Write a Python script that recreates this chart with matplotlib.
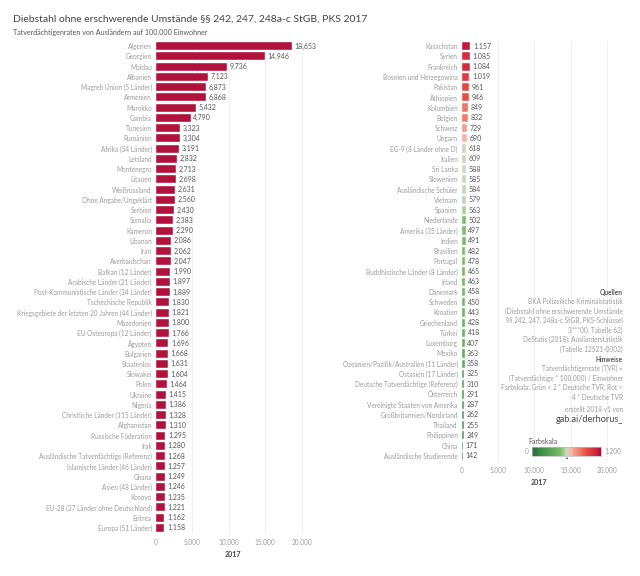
import numpy as np
import matplotlib
matplotlib.use("Agg")
import matplotlib.pyplot as plt
from matplotlib.colors import LinearSegmentedColormap

plt.rcParams['font.family'] = ['Lato', 'DejaVu Sans']

# left panel: rates above 1.200
left_names = [
    'Algerien', 'Georgien', 'Moldau', 'Albanien', 'Magreb Union (5 Länder)', 'Armenien',
    'Marokko', 'Gambia', 'Tunesien', 'Rumänien', 'Afrika (54 Länder)', 'Lettland',
    'Montenegro', 'Litauen', 'Weißrussland', 'Ohne Angabe/Ungeklärt', 'Serbien', 'Somalia',
    'Kamerun', 'Libanon', 'Iran', 'Aserbaidschan', 'Balkan (12 Länder)',
    'Arabische Länder (21 Länder)', 'Post-Kommunistische Länder (34 Länder)',
    'Tschechische Republik', 'Kriegsgebiete der letzten 20 Jahren (44 Länder)', 'Mazedonien',
    'EU Osteuropa (12 Länder)', 'Ägypten', 'Bulgarien', 'Staatenlos', 'Slowakei', 'Polen',
    'Ukraine', 'Nigeria', 'Christliche Länder (115 Länder)', 'Afghanistan',
    'Russische Föderation', 'Irak', 'Ausländische Tatverdächtige (Referenz)',
    'Islamische Länder (46 Länder)', 'Ghana', 'Asien (48 Länder)', 'Kosovo',
    'EU-28 (27 Länder ohne Deutschland)', 'Eritrea', 'Europa (51 Länder)']
left_values = [
    18653, 14946, 9736, 7123, 6873, 6868, 5432, 4790, 3323, 3304, 3191, 2832,
    2713, 2698, 2631, 2560, 2430, 2383, 2290, 2086, 2062, 2047, 1990, 1897,
    1889, 1830, 1821, 1800, 1766, 1696, 1668, 1631, 1604, 1464, 1415, 1386,
    1328, 1310, 1295, 1280, 1268, 1257, 1249, 1246, 1235, 1221, 1162, 1158]

# right panel: the rest
right_names = [
    'Kasachstan', 'Syrien', 'Frankreich', 'Bosnien und Herzegowina', 'Pakistan', 'Äthiopien',
    'Kolumbien', 'Belgien', 'Schweiz', 'Ungarn', 'EG-9 (8 Länder ohne D)', 'Italien',
    'Sri Lanka', 'Slowenien', 'Ausländische Schüler', 'Vietnam', 'Spanien', 'Niederlande',
    'Amerika (35 Länder)', 'Indien', 'Brasilien', 'Portugal', 'Buddhistische Länder (8 Länder)',
    'Irland', 'Dänemark', 'Schweden', 'Kroatien', 'Griechenland', 'Türkei', 'Luxemburg',
    'Mexiko', 'Ozeanien/Pazifik/Australien (11 Länder)', 'Ostasien (17 Länder)',
    'Deutsche Tatverdächtige (Referenz)', 'Österreich', 'Vereinigte Staaten von Amerika',
    'Großbritannien/Nordirland', 'Thailand', 'Philippinen', 'China', 'Ausländische Studierende']
right_values = [
    1157, 1085, 1084, 1019, 961, 946, 849, 832, 729, 690, 618, 609,
    588, 585, 584, 579, 563, 502, 497, 491, 482, 478, 465,
    463, 458, 450, 443, 428, 418, 407, 363, 358, 325,
    310, 291, 287, 262, 255, 249, 171, 142]

x_ticks = [0, 5000, 10000, 15000, 20000]
x_tick_labels = ['0', '5.000', '10.000', '15.000', '20.000']
scale_max = 1200

# red-green diverging scale (0 .. 1.200)
stops = [(0, '#24693d'), (142, '#3d8c47'), (310, '#55a357'), (502, '#7cbd6c'),
         (563, '#a6d297'), (588, '#c6ddba'), (614, '#d8cfc5'), (690, '#f5b5a5'),
         (729, '#f29f8d'), (832, '#ee7f6b'), (961, '#e6493f'), (1085, '#d42d3e'),
         (1157, '#c1173d'), (1200, '#a3123a')]
cmap = LinearSegmentedColormap.from_list('rg', [(p / scale_max, c) for p, c in stops])

W, H = 640, 576
fig = plt.figure(figsize=(6.4, 5.76), dpi=100)
fig.patch.set_facecolor('white')

def px(x0, y0, x1, y1):
    return [x0 / W, 1 - y1 / H, (x1 - x0) / W, (y1 - y0) / H]

label_col = '#9b9b9b'
value_col = '#555555'
fs = 4.7

def draw_panel(ax, names, values, colors, fmt):
    y = np.arange(len(names))
    ax.barh(y, values, height=0.8, color=colors, edgecolor='white', linewidth=0.3, zorder=3)
    ax.set_ylim(len(names) - 0.5, -0.5)
    ax.set_xlim(0, 21150)
    ax.set_yticks(y)
    ax.set_yticklabels(names, fontsize=fs, color=label_col)
    ax.tick_params(axis='y', length=0, pad=3)
    ax.set_xticks(x_ticks)
    ax.set_xticklabels(x_tick_labels, fontsize=fs, color=label_col)
    ax.tick_params(axis='x', length=0, pad=4)
    for s in ax.spines.values():
        s.set_visible(False)
    ax.grid(axis='x', color='#ececec', linewidth=0.6, zorder=0)
    for yi, v in zip(y, values):
        ax.text(v + 350, yi, fmt(v), fontsize=fs + 0.3, color=value_col,
                va='center', ha='left', zorder=4)
    ax.set_xlabel('2017', fontsize=fs + 0.4, color='#444444', fontweight='bold', labelpad=4)

ax1 = fig.add_axes(px(156, 41, 310, 533))
draw_panel(ax1, left_names, left_values, '#b0123b', lambda v: f'{v:,}')

ax2 = fig.add_axes(px(462, 41, 615, 461))
right_colors = [cmap(min(v, scale_max) / scale_max) for v in right_values]
draw_panel(ax2, right_names, right_values, right_colors, lambda v: f'{v:,}'.replace(',', '.'))

# titles
fig.text(13 / W, 1 - 19 / H, 'Diebstahl ohne erschwerende Umstände §§ 242, 247, 248a-c StGB, PKS 2017',
         fontsize=7.5, color='#444444', va='center', ha='left')
fig.text(13 / W, 1 - 32 / H, 'Tatverdächtigenraten von Ausländern auf 100.000 Einwohner',
         fontsize=5.1, color='#555555', va='center', ha='left')

# notes
rx = 623 / W
notes = [
    ('Quellen', 292, True),
    ('BKA Polizeiliche Kriminalstatistik', 301.5, False),
    ('(Diebstahl ohne erschwerende Umstände', 311, False),
    ('§§ 242, 247, 248a-c StGB, PKS-Schlüssel', 320.5, False),
    ('3***00, Tabelle 62)', 330, False),
    ('DeStatis (2018): Ausländerstatistik', 339.5, False),
    ('(Tabelle 12521-0002)', 349, False),
    ('Hinweise', 359, True),
    ('Tatverdächtigenrate (TVR) =', 368.5, False),
    ('(Tatverdächtige * 100.000) / Einwohner', 378, False),
    ('Farbskala: Grün < 2 * Deutsche TVR, Rot <', 387.5, False),
    ('4 * Deutsche TVR', 397, False),
    ('erstellt 2018 v1 von', 409, False),
]
for t, yy, bold in notes:
    fig.text(rx, 1 - yy / H, t, fontsize=fs, ha='right', va='center',
             color='#555555' if bold else label_col,
             fontweight='bold' if bold else 'normal')
fig.text(rx, 1 - 420 / H, 'gab.ai/derhorus_', fontsize=6.6, ha='right', va='center', color='#444444')

# colour legend
lax = fig.add_axes(px(532, 447, 601, 456))
grad = np.linspace(0, 1, 256).reshape(1, -1)
lax.imshow(grad, aspect='auto', cmap=cmap, extent=[0, 1, 0, 1])
lax.set_xticks([])
lax.set_yticks([])
for s in lax.spines.values():
    s.set_color('#bbbbbb')
    s.set_linewidth(0.5)
fig.text(528 / W, 1 - 441 / H, 'Farbskala', fontsize=fs + 0.3, color='#555555', ha='left', va='center')
fig.text(529 / W, 1 - 452 / H, '0', fontsize=fs, color=label_col, ha='right', va='center')
fig.text(604 / W, 1 - 452 / H, '1.200', fontsize=fs, color=label_col, ha='left', va='center')
fig.text(567 / W, 1 - 457.5 / H, '▴', fontsize=3, color='#333333', ha='center', va='center')

fig.savefig('out.png', dpi=100, facecolor='white')
